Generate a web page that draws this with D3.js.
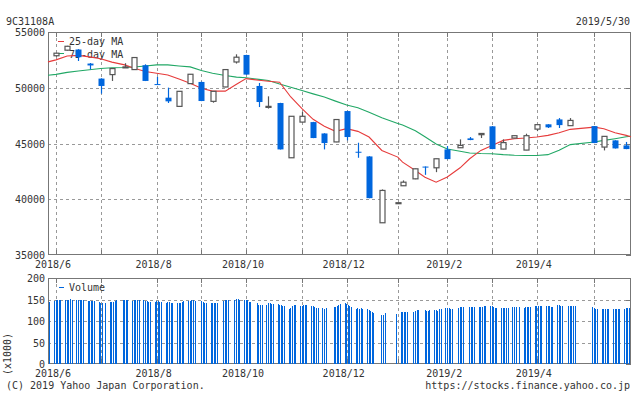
<!DOCTYPE html>
<html>
<head>
<meta charset="utf-8">
<script src="https://cdn.jsdelivr.net/npm/d3@7"></script>
<style>
body { margin: 0; background: #fff; }
svg text { font-family: "DejaVu Sans Mono", monospace; font-size: 10px; fill: #333; }
</style>
</head>
<body>
<svg id="chart" width="634" height="394"></svg>
<script>
var svg = d3.select('#chart')
var parse = d3.timeParse('%Y-%m-%d')

// weekly candles (first trading day of each week)
var candleDates = ["2018-06-04","2018-06-11","2018-06-18","2018-06-25","2018-07-02","2018-07-09","2018-07-17",
  "2018-07-23","2018-07-30","2018-08-06","2018-08-13","2018-08-20","2018-08-27","2018-09-03","2018-09-10",
  "2018-09-18","2018-09-25","2018-10-01","2018-10-09","2018-10-15","2018-10-22","2018-10-29","2018-11-05",
  "2018-11-12","2018-11-19","2018-11-26","2018-12-03","2018-12-10","2018-12-17","2018-12-25","2019-01-04",
  "2019-01-07","2019-01-15","2019-01-21","2019-01-28","2019-02-04","2019-02-12","2019-02-18","2019-02-25",
  "2019-03-04","2019-03-11","2019-03-18","2019-03-25","2019-04-01","2019-04-08","2019-04-15","2019-04-22",
  "2019-05-07","2019-05-13","2019-05-20","2019-05-27"];
var opens = [52870,53370,53430,52170,50820,51180,51830,51630,52020,50330,49110,48330,50370,50520,48780,
  50070,52310,52940,50160,48280,48630,43720,46920,46920,45900,45140,47910,44260,43840,37890,39680,
  41210,41830,42930,42820,44470,44620,45460,45790,46540,44500,45490,44410,46290,46720,47160,46600,
  46560,44680,45280,44830];
var highs = [53120,53760,53460,52220,50850,51720,52200,52720,52100,50970,50010,49700,51230,50550,49700,
  51650,53000,52960,50430,49230,48650,47450,47820,46940,45920,47160,47930,45070,43860,40880,39700,
  41690,42750,42940,43640,44770,45370,45580,45910,46560,45370,45710,45880,46700,46730,47280,47280,
  46570,45650,45290,45140];
var lows = [52800,53330,52400,51630,49470,50610,51800,51600,50600,50280,48630,48300,50350,48800,48660,
  50050,52170,51170,48270,48130,44460,43700,46900,45480,44470,45120,45280,43720,40090,37880,39660,
  41190,41800,42190,42430,43590,44600,45300,45490,44490,44480,45480,44400,46110,46390,46390,46590,
  45030,44380,44550,44490];
var closes = [53100,53720,52740,52000,50160,51720,51870,52710,50610,50280,48780,49680,51210,48810,49680,
  51630,52740,51180,48720,48330,44470,47440,47440,45490,45040,47150,45580,44230,40100,40790,39690,
  41530,42730,42890,43630,43600,44830,45310,45900,44500,45080,45700,45700,46690,46450,46650,47070,
  45040,45640,44560,44500];

// moving averages
var maDates = ["2018-05-30"].concat(candleDates, ["2019-05-30"]);
var ma25 = [52320,52500,52850,52900,52770,52600,52300,52050,51750,51450,51300,51150,50780,50400,49950,
  49700,49700,50310,50820,50670,50580,50490,49170,48130,47170,46540,46090,46330,46090,45580,44380,
  43780,43330,42580,41980,41530,42000,42820,43630,44380,44830,45280,45430,45490,45580,45730,45970,
  46270,46470,46330,45970,45730,45600];
var ma75 = [51120,51200,51380,51500,51620,51730,51800,51820,51860,51950,52050,52050,51950,51870,51550,
  51300,51100,50950,50900,50750,50650,50330,50050,49750,49450,49170,48800,48450,48200,47800,47300,
  46800,46650,46150,45600,44950,44500,44300,44150,44100,44080,44000,43950,43930,43930,44000,44400,
  44900,45130,45280,45430,45600,45650];

// daily volume (x1000), Mon..Fri per week, null = no data
var volWeeks = ["2018-05-28","2018-06-04","2018-06-11","2018-06-18","2018-06-25","2018-07-02","2018-07-09",
  "2018-07-16","2018-07-23","2018-07-30","2018-08-06","2018-08-13","2018-08-20","2018-08-27","2018-09-03",
  "2018-09-10","2018-09-17","2018-09-24","2018-10-01","2018-10-08","2018-10-15","2018-10-22","2018-10-29",
  "2018-11-05","2018-11-12","2018-11-19","2018-11-26","2018-12-03","2018-12-10","2018-12-17","2018-12-24",
  "2018-12-31","2019-01-07","2019-01-14","2019-01-21","2019-01-28","2019-02-04","2019-02-11","2019-02-18",
  "2019-02-25","2019-03-04","2019-03-11","2019-03-18","2019-03-25","2019-04-01","2019-04-08","2019-04-15",
  "2019-04-22","2019-05-06","2019-05-13","2019-05-20","2019-05-27"];
var volumes = [
  [null,null,null,null,145],[146,148,149,148,149],[150,150,150,151,150],[150,148,149,149,149],
  [147,146,146,147,146],[145,143,142,null,142],[145,145,145,146,148],[null,148,148,149,148],
  [147,148,149,150,150],[148,147,146,145,145],[145,146,146,145,145],[141,145,144,143,143],
  [141,142,143,144,146],[147,147,148,148,147],[null,146,145,142,142],[141,142,142,141,142],
  [null,147,148,150,149],[null,150,151,152,148],[150,149,148,145,145],[null,141,137,138,137],
  [137,141,141,140,140],[139,138,137,135,135],[128,131,134,137,137],[134,135,137,137,137],
  [134,134,133,131,131],[131,128,130,null,null],[133,133,135,137,139],[141,139,137,134,133],
  [128,131,129,130,128],[128,126,124,121,119],[null,null,113,115,119],[null,null,null,null,116],
  [120,122,121,120,120],[null,122,124,126,126],[null,126,124,124,126],[126,126,124,128,128],
  [131,131,130,129,129],[null,131,133,133,133],[null,133,133,133,133],[133,133,133,134,134],
  [134,134,133,131,131],[131,131,131,131,131],[133,133,133,null,133],[130,133,133,132,132],
  [134,134,134,134,134],[134,134,134,133,133],[137,137,136,134,null],[134,134,134,134,134],
  [null,133,131,129,129],[129,129,129,129,129],[129,129,129,129,129],[129,130,130,130,null]];

var gridDates = ["2018-06-04","2018-07-02","2018-08-06","2018-09-03","2018-10-01","2018-11-05","2018-12-03",
  "2019-01-04","2019-02-04","2019-03-04","2019-04-01","2019-05-07"];
var gridLabels = ["2018/6","","2018/8","","2018/10","","2018/12","","2019/2","","2019/4",""];
var priceTicks = [55000,50000,45000,40000,35000];
var volTicks = [200,150,100,50,0];

var blue = "#0066dd", red = "#e63b3b", green = "#22a866", dark = "#555", gridC = "#999", frameC = "#777";
var left = 48, right = 631;
var pTop = 32, pBottom = 255, vTop = 278, vBottom = 364;

var x = d3.scaleTime().domain([parse("2018-05-30"), parse("2019-05-30")]).range([left, right]);
var y = d3.scaleLinear().domain([35000, 55000]).range([pBottom, pTop]);
var yv = d3.scaleLinear().domain([0, 200]).range([vBottom, vTop]);

var candles = candleDates.map(function (d, i) {
  return { date: parse(d), o: opens[i], h: highs[i], l: lows[i], c: closes[i] };
});
var vols = [];
volWeeks.forEach(function (w, i) {
  volumes[i].forEach(function (v, k) {
    if (v != null) vols.push({ date: d3.timeDay.offset(parse(w), k), v: v });
  });
});
function px(v) { return Math.round(v) + 0.5; }

function panel(top, bottom, ys, ticks) {
  var g = svg.append("g");
  g.selectAll(".vg").data(gridDates).enter().append("line")
    .attr("x1", function (d) { return px(x(parse(d))); })
    .attr("x2", function (d) { return px(x(parse(d))); })
    .attr("y1", top).attr("y2", bottom)
    .attr("stroke", gridC).attr("stroke-dasharray", "3,3");
  g.selectAll(".hg").data(ticks.slice(1, -1)).enter().append("line")
    .attr("x1", left).attr("x2", right)
    .attr("y1", function (d) { return px(ys(d)); })
    .attr("y2", function (d) { return px(ys(d)); })
    .attr("stroke", gridC).attr("stroke-dasharray", "3,3");
  // small ticks on the frame
  g.selectAll(".tb").data(gridDates).enter().append("line")
    .attr("x1", function (d) { return px(x(parse(d))); })
    .attr("x2", function (d) { return px(x(parse(d))); })
    .attr("y1", bottom).attr("y2", bottom - 5).attr("stroke", frameC);
  g.selectAll(".tt").data(gridDates).enter().append("line")
    .attr("x1", function (d) { return px(x(parse(d))); })
    .attr("x2", function (d) { return px(x(parse(d))); })
    .attr("y1", top).attr("y2", top + 5).attr("stroke", frameC);
  g.selectAll(".tr").data(ticks).enter().append("line")
    .attr("x1", right - 5).attr("x2", right)
    .attr("y1", function (d) { return px(ys(d)); })
    .attr("y2", function (d) { return px(ys(d)); })
    .attr("stroke", frameC);
  g.append("rect").attr("x", left + 0.5).attr("y", top + 0.5)
    .attr("width", right - left - 1).attr("height", bottom - top - 1)
    .attr("fill", "none").attr("stroke", frameC);
  g.selectAll(".yl").data(ticks).enter().append("text")
    .attr("x", 45).attr("y", function (d) { return ys(d) + 4; })
    .attr("text-anchor", "end").text(function (d) { return d; });
  g.selectAll(".xl").data(gridDates).enter().append("text")
    .attr("x", function (d) { return x(parse(d)) - 3; })
    .attr("y", bottom + 13)
    .attr("text-anchor", "middle")
    .text(function (d, i) { return gridLabels[i]; });
}
panel(pTop, pBottom, y, priceTicks);
panel(vTop, vBottom, yv, volTicks);

// legend (price)
svg.append("line").attr("x1", 58).attr("x2", 64).attr("y1", 41.5).attr("y2", 41.5).attr("stroke", red);
svg.append("text").attr("x", 69).attr("y", 45).text("25-day MA");
svg.append("line").attr("x1", 58).attr("x2", 64).attr("y1", 53.5).attr("y2", 53.5).attr("stroke", green);
svg.append("text").attr("x", 69).attr("y", 58).text("75-day MA");

// moving average lines
var maLine = function (arr) {
  return d3.line()
    .x(function (d) { return x(parse(d)); })
    .y(function (d, i) { return y(arr[i]); })(maDates);
};
svg.append("path").attr("d", maLine(ma75)).attr("fill", "none").attr("stroke", green).attr("stroke-width", 1.1);
svg.append("path").attr("d", maLine(ma25)).attr("fill", "none").attr("stroke", red).attr("stroke-width", 1.1);

// candles
var cg = svg.append("g").selectAll("g").data(candles).enter().append("g");
cg.append("line")
  .attr("x1", function (d) { return px(x(d.date)); })
  .attr("x2", function (d) { return px(x(d.date)); })
  .attr("y1", function (d) { return y(d.h); })
  .attr("y2", function (d) { return y(d.l); })
  .attr("stroke", function (d) { return d.c >= d.o ? dark : blue; })
  .attr("stroke-width", 1.2);
cg.append("rect")
  .attr("x", function (d) { return d.c >= d.o ? Math.round(x(d.date)) - 2 : Math.round(x(d.date)) - 2.5; })
  .attr("y", function (d) { return y(Math.max(d.o, d.c)); })
  .attr("width", function (d) { return d.c >= d.o ? 5 : 6; })
  .attr("height", function (d) { return Math.max(1, Math.abs(y(d.o) - y(d.c))); })
  .attr("fill", function (d) { return d.c >= d.o ? "#fff" : blue; })
  .attr("stroke", function (d) { return d.c >= d.o ? dark : "none"; })
  .attr("stroke-width", 1.2);

// volume bars
svg.append("g").attr("shape-rendering", "crispEdges")
  .selectAll("rect").data(vols).enter().append("rect")
  .attr("x", function (d) { return Math.floor(x(d.date) - 1.5); })
  .attr("width", 1)
  .attr("y", function (d) { return Math.round(yv(d.v)); })
  .attr("height", function (d) { return vBottom - Math.round(yv(d.v)); })
  .attr("fill", blue);

svg.append("line").attr("x1", 59).attr("x2", 64).attr("y1", 287.5).attr("y2", 287.5).attr("stroke", blue);
svg.append("text").attr("x", 69).attr("y", 291).text("Volume");

svg.append("text").attr("transform", "translate(11,354) rotate(-90)")
  .attr("text-anchor", "middle").text("(x1000)");

svg.append("text").attr("x", 6).attr("y", 25).text("9C31108A");
svg.append("text").attr("x", 630).attr("y", 25).attr("text-anchor", "end").text("2019/5/30");
svg.append("text").attr("x", 6).attr("y", 389).text("(C) 2019 Yahoo Japan Corporation.");
svg.append("text").attr("x", 630).attr("y", 389).attr("text-anchor", "end").text("https://stocks.finance.yahoo.co.jp");
</script>
</body>
</html>
